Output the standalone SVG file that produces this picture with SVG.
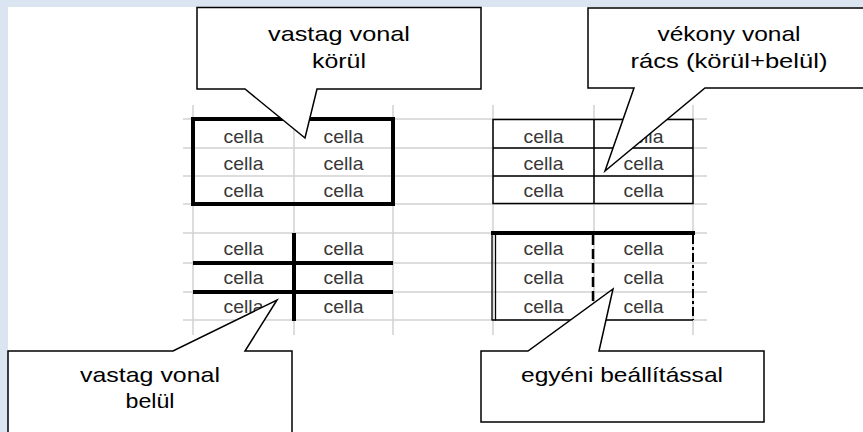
<svg xmlns="http://www.w3.org/2000/svg" width="863" height="432" viewBox="0 0 863 432">
  <style>
    .grid line { stroke: #d2d2d2; stroke-width: 1.5; }
    .cell { font-family: "Liberation Sans", Arial, sans-serif; font-size: 19px; fill: #383838; text-anchor: middle; }
    .callout path { fill: #ffffff; stroke: #000000; stroke-width: 1.5; stroke-linejoin: miter; }
    .callout text { font-family: "Liberation Sans", Arial, sans-serif; font-size: 21px; fill: #000000; text-anchor: middle; }
    .thick { stroke: #000000; stroke-width: 4; fill: none; }
    .thin { stroke: #000000; stroke-width: 1.5; fill: none; }
  </style>

  <!-- page background -->
  <rect x="0" y="0" width="863" height="432" fill="#dbe5f1"/>
  <rect x="8" y="7" width="855" height="425" fill="#ffffff"/>

  <!-- spreadsheet gridlines -->
  <g id="grid" class="grid">
    <line x1="183" y1="119" x2="707" y2="119"/>
    <line x1="183" y1="148" x2="707" y2="148"/>
    <line x1="183" y1="176" x2="707" y2="176"/>
    <line x1="183" y1="204" x2="707" y2="204"/>
    <line x1="183" y1="233" x2="707" y2="233"/>
    <line x1="183" y1="263" x2="707" y2="263"/>
    <line x1="183" y1="292" x2="707" y2="292"/>
    <line x1="183" y1="320" x2="707" y2="320"/>
    <line x1="193" y1="105" x2="193" y2="335"/>
    <line x1="294" y1="105" x2="294" y2="335"/>
    <line x1="393" y1="105" x2="393" y2="335"/>
    <line x1="493" y1="105" x2="493" y2="335"/>
    <line x1="594" y1="105" x2="594" y2="335"/>
    <line x1="693" y1="105" x2="693" y2="335"/>
  </g>

  <!-- table: thick outline -->
  <g id="table-outline">
    <rect class="thick" x="193" y="119" width="200" height="85"/>
    <text class="cell" x="243.5" y="143" textLength="40" lengthAdjust="spacingAndGlyphs">cella</text>
    <text class="cell" x="343.5" y="143" textLength="40" lengthAdjust="spacingAndGlyphs">cella</text>
    <text class="cell" x="243.5" y="170" textLength="40" lengthAdjust="spacingAndGlyphs">cella</text>
    <text class="cell" x="343.5" y="170" textLength="40" lengthAdjust="spacingAndGlyphs">cella</text>
    <text class="cell" x="243.5" y="197" textLength="40" lengthAdjust="spacingAndGlyphs">cella</text>
    <text class="cell" x="343.5" y="197" textLength="40" lengthAdjust="spacingAndGlyphs">cella</text>
  </g>

  <!-- table: thin grid -->
  <g id="table-grid">
    <rect class="thin" x="493" y="119.5" width="200" height="84"/>
    <line class="thin" x1="493" y1="148" x2="693" y2="148"/>
    <line class="thin" x1="493" y1="176" x2="693" y2="176"/>
    <line class="thin" x1="594" y1="119.5" x2="594" y2="203.5"/>
    <text class="cell" x="543.5" y="143" textLength="40" lengthAdjust="spacingAndGlyphs">cella</text>
    <text class="cell" x="643.5" y="143" textLength="40" lengthAdjust="spacingAndGlyphs">cella</text>
    <text class="cell" x="543.5" y="170" textLength="40" lengthAdjust="spacingAndGlyphs">cella</text>
    <text class="cell" x="643.5" y="170" textLength="40" lengthAdjust="spacingAndGlyphs">cella</text>
    <text class="cell" x="543.5" y="197" textLength="40" lengthAdjust="spacingAndGlyphs">cella</text>
    <text class="cell" x="643.5" y="197" textLength="40" lengthAdjust="spacingAndGlyphs">cella</text>
  </g>

  <!-- table: thick inner lines -->
  <g id="table-inner">
    <line class="thick" x1="193" y1="263" x2="393" y2="263"/>
    <line class="thick" x1="193" y1="292" x2="393" y2="292"/>
    <line class="thick" x1="294" y1="233" x2="294" y2="321"/>
    <text class="cell" x="243.5" y="255" textLength="40" lengthAdjust="spacingAndGlyphs">cella</text>
    <text class="cell" x="343.5" y="255" textLength="40" lengthAdjust="spacingAndGlyphs">cella</text>
    <text class="cell" x="243.5" y="284" textLength="40" lengthAdjust="spacingAndGlyphs">cella</text>
    <text class="cell" x="343.5" y="284" textLength="40" lengthAdjust="spacingAndGlyphs">cella</text>
    <text class="cell" x="243.5" y="313" textLength="40" lengthAdjust="spacingAndGlyphs">cella</text>
    <text class="cell" x="343.5" y="313" textLength="40" lengthAdjust="spacingAndGlyphs">cella</text>
  </g>

  <!-- table: custom borders -->
  <g id="table-custom">
    <line class="thick" x1="491" y1="233" x2="695" y2="233"/>
    <line x1="492" y1="233" x2="492" y2="320.5" stroke="#000" stroke-width="1.3"/>
    <line x1="495.5" y1="233" x2="495.5" y2="320.5" stroke="#000" stroke-width="1.3"/>
    <line class="thin" x1="492" y1="320" x2="693" y2="320"/>
    <line x1="593" y1="235" x2="593" y2="320" stroke="#000" stroke-width="2.5" stroke-dasharray="10 4"/>
    <line x1="693" y1="235" x2="693" y2="320" stroke="#000" stroke-width="2" stroke-dasharray="9 3 3 3"/>
    <text class="cell" x="543.5" y="255" textLength="40" lengthAdjust="spacingAndGlyphs">cella</text>
    <text class="cell" x="643.5" y="255" textLength="40" lengthAdjust="spacingAndGlyphs">cella</text>
    <text class="cell" x="543.5" y="284" textLength="40" lengthAdjust="spacingAndGlyphs">cella</text>
    <text class="cell" x="643.5" y="284" textLength="40" lengthAdjust="spacingAndGlyphs">cella</text>
    <text class="cell" x="543.5" y="313" textLength="40" lengthAdjust="spacingAndGlyphs">cella</text>
    <text class="cell" x="643.5" y="313" textLength="40" lengthAdjust="spacingAndGlyphs">cella</text>
  </g>

  <!-- callouts -->
  <g id="callout-outline" class="callout">
    <path d="M197,7.5 H481 V89 H317 L305,138 L245,89 H197 Z"/>
    <text x="339" y="41" textLength="142" lengthAdjust="spacingAndGlyphs">vastag vonal</text>
    <text x="339" y="68" textLength="54" lengthAdjust="spacingAndGlyphs">körül</text>
  </g>

  <g id="callout-grid" class="callout">
    <path d="M588,8 H872 V88 H705 L605,171 L634,88 H588 Z"/>
    <text x="729" y="41" textLength="143" lengthAdjust="spacingAndGlyphs">vékony vonal</text>
    <text x="729" y="68" textLength="197" lengthAdjust="spacingAndGlyphs">rács (körül+belül)</text>
  </g>

  <g id="callout-inner" class="callout">
    <path d="M8,351 H173 L277,300 L245,351 H292 V440 H8 Z"/>
    <text x="150" y="382" textLength="140" lengthAdjust="spacingAndGlyphs">vastag vonal</text>
    <text x="150" y="408" textLength="49" lengthAdjust="spacingAndGlyphs">belül</text>
  </g>

  <g id="callout-custom" class="callout">
    <path d="M481,351 H528 L613,289 L599,351 H764 V422 H481 Z"/>
    <text x="622" y="382" textLength="202" lengthAdjust="spacingAndGlyphs">egyéni beállítással</text>
  </g>
</svg>
